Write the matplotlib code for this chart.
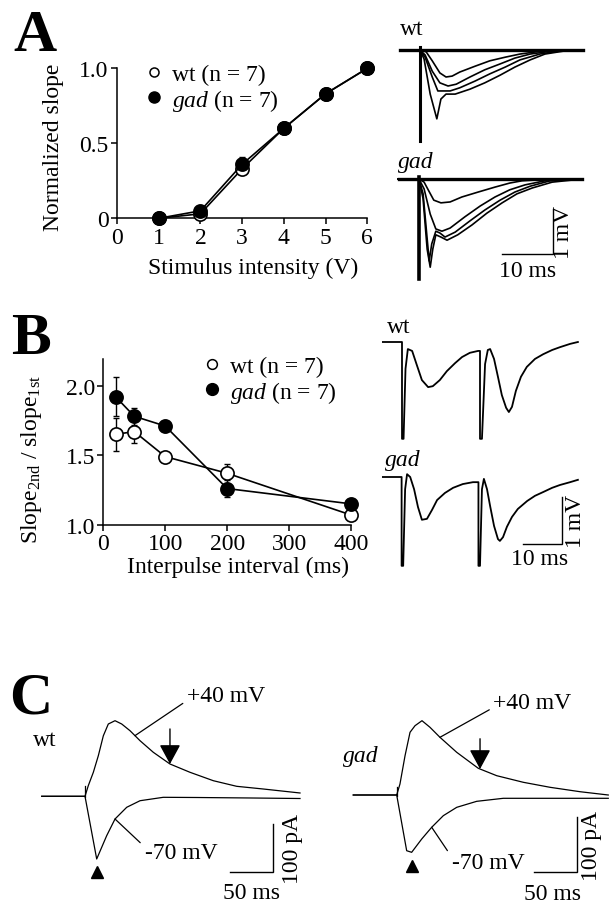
import numpy as np
import matplotlib
matplotlib.use('Agg')
import matplotlib.pyplot as plt
from matplotlib.lines import Line2D

plt.rcParams['font.family'] = ['Liberation Serif', 'DejaVu Serif']
plt.rcParams['mathtext.fontset'] = 'custom'
plt.rcParams['mathtext.rm'] = 'Liberation Serif'
plt.rcParams['mathtext.it'] = 'Liberation Serif:italic'
plt.rcParams['mathtext.bf'] = 'Liberation Serif:bold'

# ------------------------------------------------------------------ data
# Panel A: input-output curve
intensity = [1, 2, 3, 4, 5, 6]
wt_slope = [0.0, 0.03, 0.33, 0.60, 0.83, 1.0]
wt_slope_err = [0.0, 0.01, 0.03, 0.02, 0.02, 0.0]
gad_slope = [0.0, 0.05, 0.36, 0.60, 0.83, 1.0]
gad_slope_err = [0.0, 0.01, 0.05, 0.02, 0.02, 0.0]
A_xticks = [0, 1, 2, 3, 4, 5, 6]
A_yticks = [0, 0.5, 1.0]
A_yticklabels = ['0', '0.5', '1.0']

# Panel A: field EPSP traces (ms, mV)
base_t = [-3.9, 32]
base_v = [0, 0]
wtA_t1 = [-3.9, 0, 1.2, 2.4, 3.9, 5.1, 6.3, 7.8, 10.8, 13.7, 16.7, 19.6, 23.5, 27.5, 32]
wtA_v1 = [0, 0, -0.04, -0.24, -0.51, -0.60, -0.58, -0.49, -0.36, -0.24, -0.16, -0.09, -0.03, -0.01, 0]
wtA_t2 = [-3.9, 0, 1.0, 2.4, 3.9, 5.5, 7.1, 9.8, 12.7, 15.7, 18.6, 21.6, 25.5, 32]
wtA_v2 = [0, 0, -0.11, -0.47, -0.73, -0.80, -0.76, -0.60, -0.44, -0.31, -0.18, -0.09, -0.03, 0]
wtA_t3 = [-3.9, 0, 1.0, 2.4, 3.5, 4.7, 5.9, 7.8, 10.8, 13.7, 16.7, 19.6, 23.5, 27.5, 32]
wtA_v3 = [0, 0, -0.16, -0.60, -0.91, -0.91, -0.91, -0.84, -0.69, -0.53, -0.38, -0.22, -0.09, -0.02, 0]
wtA_t4 = [-3.9, 0, 0.8, 2.0, 3.3, 4.1, 5.1, 6.9, 9.8, 12.7, 15.7, 18.6, 21.6, 24.5, 28.4, 32]
wtA_v4 = [0, 0, -0.20, -0.98, -1.53, -1.09, -0.98, -0.98, -0.87, -0.73, -0.56, -0.38, -0.22, -0.09, -0.02, 0]
wtA_art_t = [0, 0]
wtA_art_v = [0.07, -2.02]

gadA_t1 = [-4.1, 0, 1.0, 1.8, 2.9, 4.3, 6.1, 8.4, 11.6, 14.9, 17.8, 20.2, 24.7, 32]
gadA_v1 = [0, 0, -0.07, -0.24, -0.47, -0.53, -0.51, -0.40, -0.29, -0.18, -0.09, -0.04, -0.01, 0]
gadA_t2 = [-4.1, 0, 1.0, 2.2, 3.3, 4.5, 6.1, 9.0, 12.0, 14.9, 17.8, 20.8, 24.7, 32]
gadA_v2 = [0, 0, -0.22, -0.78, -1.11, -1.16, -1.09, -0.84, -0.60, -0.40, -0.24, -0.13, -0.04, 0]
gadA_t3 = [-4.1, 0, 0.8, 1.6, 2.0, 2.5, 3.3, 4.1, 5.1, 7.1, 10.0, 12.9, 15.9, 18.8, 21.8, 25.7, 32]
gadA_v3 = [0, 0, -0.33, -1.33, -1.82, -1.44, -1.16, -1.20, -1.29, -1.18, -0.93, -0.69, -0.47, -0.29, -0.16, -0.04, 0]
gadA_t4 = [-4.1, 0, 0.8, 1.6, 2.2, 2.7, 3.3, 4.3, 5.5, 7.6, 10.4, 13.3, 16.3, 19.2, 22.2, 26.1, 32]
gadA_v4 = [0, 0, -0.44, -1.56, -1.96, -1.56, -1.24, -1.29, -1.36, -1.24, -1.02, -0.76, -0.53, -0.33, -0.20, -0.07, 0]
gadA_art_t = [0, 0]
gadA_art_v = [0.05, -2.22]

# Panel B: paired-pulse ratio
interval = [20, 50, 100, 200, 400]
wt_ppr = [1.65, 1.67, 1.49, 1.37, 1.07]
wt_ppr_err = [0.12, 0.08, 0.03, 0.07, 0.02]
gad_ppr = [1.92, 1.78, 1.71, 1.26, 1.15]
gad_ppr_err = [0.14, 0.06, 0.03, 0.06, 0.02]
B_xticks = [0, 100, 200, 300, 400]
B_yticks = [1.0, 1.5, 2.0]

# Panel B: paired-pulse traces (ms, mV)
wtB_t = [-4.9, 0, 0, 0.4, 0.9, 1.5, 2.6, 3.8, 5.1, 6.7, 7.9, 9.7, 11.5, 13.6, 15.4, 17.4, 19.5,
         20.0, 20.0, 20.5, 21.3, 22.0, 22.6, 23.6, 24.6, 25.6, 26.7, 27.4, 28.2, 29.2, 30.5,
         32.0, 34.1, 36.2, 38.5, 40.5, 43.1, 45.1]
wtB_v = [0, 0, -2.06, -2.06, -0.57, -0.15, -0.19, -0.49, -0.81, -0.96, -0.94, -0.81, -0.62,
         -0.45, -0.32, -0.23, -0.19, -0.19, -2.06, -2.06, -0.47, -0.17, -0.15, -0.36, -0.74,
         -1.13, -1.40, -1.49, -1.38, -1.04, -0.74, -0.53, -0.36, -0.26, -0.17, -0.11, -0.04, 0]
gadB_t = [-4.9, -0.1, -0.1, 0.3, 0.8, 1.3, 2.1, 3.1, 4.1, 5.1, 6.4, 7.7, 9.0, 11.0, 13.1, 15.6,
          18.2, 19.6, 19.6, 20.0, 20.5, 21.0, 21.8, 22.6, 23.6, 24.6, 25.1, 25.9, 26.9, 28.2,
          29.7, 32.1, 34.1, 36.2, 38.5, 40.5, 43.1, 45.1]
gadB_v = [0, 0, -1.89, -1.89, -0.26, 0.06, 0, -0.26, -0.64, -0.91, -0.89, -0.70, -0.49, -0.34,
          -0.23, -0.15, -0.11, -0.11, -1.89, -1.89, -0.26, -0.04, -0.26, -0.62, -1.04, -1.32,
          -1.36, -1.28, -1.06, -0.85, -0.68, -0.51, -0.40, -0.32, -0.23, -0.17, -0.11, -0.06]

# Panel C: whole-cell currents (ms, pA)
wtC40_t = [-50.3, -1.2, 0, 3.8, 9.7, 15.5, 21.3, 27.1, 34.9, 42.7, 52.3, 64.0, 79.4, 98.8,
           122.1, 149.2, 176.4, 207.3, 250]
wtC40_i = [0, 0, 0, 22, 50, 84.6, 126, 150.6, 157.5, 150.6, 136.7, 115.8, 91.7, 67.3, 50,
           32.5, 20.8, 15.2, 6.9]
wtC70_t = [-50.3, 0, 13.6, 25.2, 34.9, 48.5, 64.0, 91.0, 129.9, 191.9, 250]
wtC70_i = [0, 0, -130.6, -82.1, -47.3, -22.9, -9.2, -2.1, -2.5, -3.5, -4.6]
wtC_art_t = [0, 0]
wtC_art_i = [22, -2]
gadC40_t = [-50.5, -0.8, 0, 3.8, 9.7, 15.5, 21.3, 29.4, 38.7, 50.3, 69.8, 94.9, 116.3, 147.2,
            178.3, 213.1, 246.0]
gadC40_i = [0, 0, 0, 20, 71.5, 114, 126, 135.1, 123.1, 104.9, 77.6, 48.5, 35.1, 23.1, 14, 6, 0]
gadC70_t = [-50.5, 0, 11.6, 17.4, 29.1, 40.7, 54.2, 69.8, 93.0, 124.0, 174.4, 246.0]
gadC70_i = [0, 0, -101.3, -104.2, -80, -58.7, -37.6, -22.4, -11.5, -6, -6, -6]
gadC_art_t = [0, 0]
gadC_art_i = [15, -2]

# ------------------------------------------------------------------ layout helpers
W, H = 615, 904
fig = plt.figure(figsize=(W / 100, H / 100), dpi=100)
FS = 17


def px_axes(x0, y0, x1, y1):
    return fig.add_axes([x0 / W, 1 - y1 / H, (x1 - x0) / W, (y1 - y0) / H])


def trace_axes(box, origin, px_t, px_v):
    x0, y0, x1, y1 = box
    ox, oy = origin
    ax = px_axes(x0, y0, x1, y1)
    ax.set_xlim((x0 - ox) / px_t, (x1 - ox) / px_t)
    ax.set_ylim((oy - y1) / px_v, (oy - y0) / px_v)
    ax.axis('off')
    ax.patch.set_visible(False)
    return ax


def style_ax(ax):
    for s in ['top', 'right']:
        ax.spines[s].set_visible(False)
    for s in ['left', 'bottom']:
        ax.spines[s].set_linewidth(1.1)
    ax.tick_params(direction='out', length=4, width=1.1, labelsize=FS, pad=2)
    ax.patch.set_visible(False)


def scale_bar(ax, t0, v0, dt, dv, lw=1.0):
    ax.plot([t0, t0 + dt, t0 + dt], [v0, v0, v0 + dv], color='k', lw=lw,
            solid_joinstyle='miter')


# ------------------------------------------------------------------ panel letters
for letter, (x, y) in {'A': (13, 51), 'B': (11, 354), 'C': (9, 713)}.items():
    fig.text(x / W, 1 - y / H, letter, fontsize=43, fontweight='bold',
             ha='left', va='baseline')

# ------------------------------------------------------------------ panel A scatter
axA = px_axes(117, 69.3, 367.3, 219.3)
style_ax(axA)
axA.set_xlim(0, 6)
axA.set_ylim(0, 1.0)
axA.set_xticks(A_xticks)
axA.set_yticks(A_yticks)
axA.set_yticklabels(A_yticklabels)
axA.errorbar(intensity, wt_slope, yerr=wt_slope_err, fmt='none', ecolor='k',
             elinewidth=1, capsize=2, zorder=2)
axA.errorbar(intensity, gad_slope, yerr=gad_slope_err, fmt='none', ecolor='k',
             elinewidth=1, capsize=2, zorder=2)
axA.plot(intensity, wt_slope, '-o', color='k', lw=1.2, ms=9.5, mfc='white', mec='k',
         mew=1.2, clip_on=False, zorder=3)
axA.plot(intensity, gad_slope, '-o', color='k', lw=1.2, ms=9.5, mfc='k', mec='k',
         mew=1.2, clip_on=False, zorder=4)
axA.set_xlabel('Stimulus intensity (V)', fontsize=FS)
axA.xaxis.set_label_coords(0.545, -0.26)
axA.set_ylabel('Normalized slope', fontsize=FS)
axA.yaxis.set_label_coords(-0.21, 0.48)
hA = [Line2D([], [], ls='none', marker='o', ms=6.5, mfc='white', mec='k', mew=1.1),
      Line2D([], [], ls='none', marker='o', ms=8, mfc='k', mec='k')]
axA.legend(hA, ['wt (n = 7)', r'$\it{gad}$ (n = 7)'], loc='upper left',
           bbox_to_anchor=(0.12, 1.03), frameon=False, fontsize=FS, handlelength=0.6,
           handletextpad=0.45, labelspacing=0.05, borderaxespad=0, borderpad=0)

# ------------------------------------------------------------------ panel A traces
axAw = trace_axes((385, 15, 600, 150), (420, 51), 5.1, 45)
for t, v in [(base_t, base_v), (wtA_t1, wtA_v1), (wtA_t2, wtA_v2), (wtA_t3, wtA_v3),
             (wtA_t4, wtA_v4)]:
    axAw.plot(t, v, color='k', lw=1.2)
axAw.plot(base_t, base_v, color='k', lw=2.4)
axAw.plot(wtA_art_t, wtA_art_v, color='k', lw=2.2)
axAw.text(-3.9, 0.47, 'wt', fontsize=FS, ha='left', va='center')

axAg = trace_axes((385, 145, 600, 290), (419, 180), 5.1, 45)
for t, v in [(gadA_t1, gadA_v1), (gadA_t2, gadA_v2), (gadA_t3, gadA_v3), (gadA_t4, gadA_v4)]:
    axAg.plot(t, v, color='k', lw=1.2)
axAg.plot(base_t, base_v, color='k', lw=2.4)
axAg.plot(gadA_art_t, gadA_art_v, color='k', lw=2.6)
axAg.text(-4.1, 0.38, 'gad', fontsize=FS, fontstyle='italic', ha='left', va='center')
scale_bar(axAg, 16.3, -1.67, 10, 1)
axAg.text(28.4, -1.17, '1 mV', fontsize=FS, rotation=90, ha='center', va='center')
axAg.text(21.3, -2.04, '10 ms', fontsize=FS, ha='center', va='center')

# ------------------------------------------------------------------ panel B scatter
axB = px_axes(103.3, 360.3, 351, 525.7)
style_ax(axB)
axB.set_xlim(0, 400)
axB.set_ylim(1.0, 2.19)
axB.set_xticks(B_xticks)
axB.set_yticks(B_yticks)
axB.errorbar(interval, wt_ppr, yerr=wt_ppr_err, fmt='none', ecolor='k', elinewidth=1,
             capsize=2, zorder=2)
axB.errorbar(interval, gad_ppr, yerr=gad_ppr_err, fmt='none', ecolor='k', elinewidth=1,
             capsize=2, zorder=2)
axB.plot(interval, wt_ppr, '-o', color='k', lw=1.2, ms=9.5, mfc='white', mec='k', mew=1.2,
         clip_on=False, zorder=3)
axB.plot(interval, gad_ppr, '-o', color='k', lw=1.2, ms=9.5, mfc='k', mec='k', mew=1.2,
         clip_on=False, zorder=4)
axB.set_xlabel('Interpulse interval (ms)', fontsize=FS)
axB.xaxis.set_label_coords(0.544, -0.19)
axB.set_ylabel(r'Slope$_{\rm 2nd}$ / slope$_{\rm 1st}$', fontsize=FS)
axB.yaxis.set_label_coords(-0.24, 0.40)
hB = [Line2D([], [], ls='none', marker='o', ms=7, mfc='white', mec='k', mew=1.1),
      Line2D([], [], ls='none', marker='o', ms=8.5, mfc='k', mec='k')]
axB.legend(hB, ['wt (n = 7)', r'$\it{gad}$ (n = 7)'], loc='upper left',
           bbox_to_anchor=(0.41, 1.02), frameon=False, fontsize=FS, handlelength=0.6,
           handletextpad=0.45, labelspacing=0.05, borderaxespad=0, borderpad=0)

# ------------------------------------------------------------------ panel B traces
axBw = trace_axes((375, 305, 600, 450), (402, 343), 3.9, 47)
axBw.plot(wtB_t, wtB_v, color='k', lw=1.3)
axBw.text(-3.8, 0.34, 'wt', fontsize=FS, ha='left', va='center')

axBg = trace_axes((375, 440, 600, 585), (402, 478), 3.9, 47)
axBg.plot(gadB_t, gadB_v, color='k', lw=1.3)
axBg.text(-4.4, 0.38, 'gad', fontsize=FS, fontstyle='italic', ha='left', va='center')
scale_bar(axBg, 31.0, -1.43, 10, 1)
axBg.text(44.4, -0.93, '1 mV', fontsize=FS, rotation=90, ha='center', va='center')
axBg.text(35.2, -1.74, '10 ms', fontsize=FS, ha='center', va='center')

# ------------------------------------------------------------------ panel C


def current_panel(ax, t40, i40, t70, i70, art_t, art_i, label, italic, arrow_t, arrow_len,
                  tri_off, lab40_xy, lab40_text, lab40_anchor, lab70_xy, lab70_text,
                  lab70_anchor, bar_t, bar_i, bar_lab_t, ms_lab):
    ax.plot(t40, i40, color='k', lw=0.9)
    ax.plot(t70, i70, color='k', lw=0.9)
    ax.plot(art_t, art_i, color='k', lw=0.9)
    # arrow on the +40 mV decay
    tip = np.interp(arrow_t, t40, i40)
    ax.annotate('', xy=(arrow_t, tip), xytext=(arrow_t, tip + arrow_len),
                arrowprops=dict(arrowstyle='-|>,head_length=1.2,head_width=0.65',
                                mutation_scale=10, color='k', lw=1.0, shrinkA=0, shrinkB=0))
    # triangle under the -70 mV peak
    k = int(np.argmin(i70))
    ax.plot([t70[k]], [i70[k] - tri_off], marker='^', ms=9, color='k', mec='k')
    # leader labels
    ax.annotate(lab40_text, xy=(lab40_anchor, np.interp(lab40_anchor, t40, i40)),
                xytext=lab40_xy, fontsize=FS, ha='left', va='center',
                arrowprops=dict(arrowstyle='-', color='k', lw=0.9, relpos=(0, 0.25),
                                shrinkA=1, shrinkB=0))
    ax.annotate(lab70_text, xy=(lab70_anchor, np.interp(lab70_anchor, t70, i70)),
                xytext=lab70_xy, fontsize=FS, ha='left', va='center',
                arrowprops=dict(arrowstyle='-', color='k', lw=0.9, relpos=(0, 0.75),
                                shrinkA=2, shrinkB=0))
    ax.text(label[1], label[2], label[0], fontsize=FS, ha='left', va='center',
            fontstyle='italic' if italic else 'normal')
    scale_bar(ax, bar_t, bar_i, 50, 100)
    ax.text(bar_lab_t, bar_i + 50, '100 pA', fontsize=FS, rotation=90, ha='center',
            va='center')
    ax.text(ms_lab[0], ms_lab[1], '50 ms', fontsize=FS, ha='center', va='center')


axCw = trace_axes((20, 660, 320, 904), (85, 797.3), 0.86, 0.48)
current_panel(axCw, wtC40_t, wtC40_i, wtC70_t, wtC70_i, wtC_art_t, wtC_art_i,
              ('wt', -61, 119), False, 98.8, 73, 27,
              (118.3, 210), '+40 mV', 58.1, (69.8, -117), '-70 mV', 34.9,
              169, -158.3, 240.7, (194, -201))

axCg = trace_axes((325, 660, 615, 904), (396.7, 796), 0.86, 0.55)
current_panel(axCg, gadC40_t, gadC40_i, gadC70_t, gadC70_i, gadC_art_t, gadC_art_i,
              ('gad', -62.4, 71.5), True, 96.9, 55, 24,
              (112.3, 168.5), '+40 mV', 50.3, (64, -122.4), '-70 mV', 40.7,
              159.3, -140.5, 227, (181.7, -180))

fig.savefig('out.png', dpi=100, facecolor='white')
